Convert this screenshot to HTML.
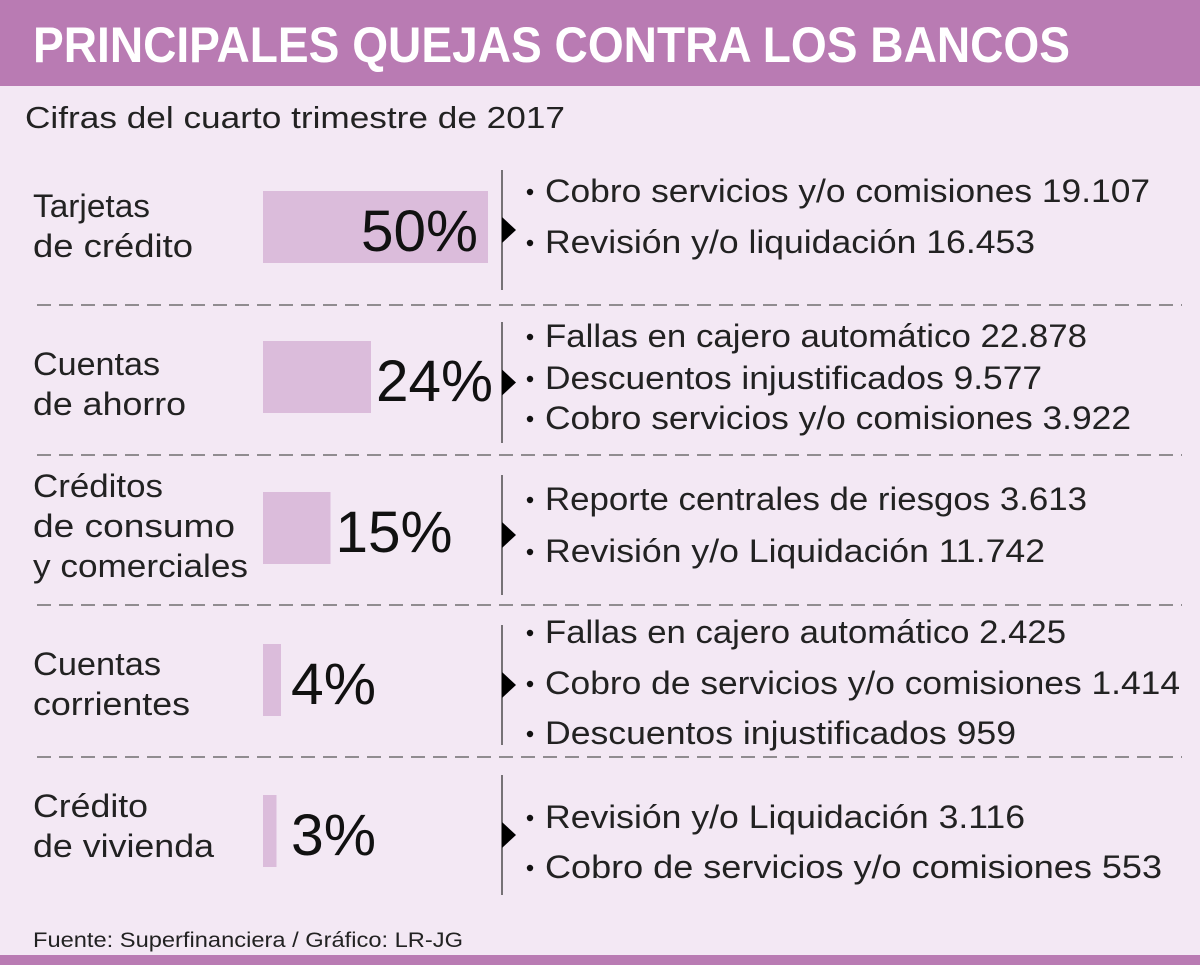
<!DOCTYPE html>
<html><head><meta charset="utf-8"><style>
html,body{margin:0;padding:0;background:#f3e8f4;}
svg{display:block;font-family:"Liberation Sans",sans-serif;}
</style></head><body>
<svg id="chart" width="1200" height="965" viewBox="0 0 1200 965" xmlns="http://www.w3.org/2000/svg">
<rect x="0" y="0" width="1200" height="965" fill="#f3e8f4"/>
<rect x="0" y="0" width="1200" height="86" fill="#b97bb3"/>
<text x="33" y="62" font-size="50" font-weight="bold" fill="#fff" textLength="1037" lengthAdjust="spacingAndGlyphs">PRINCIPALES QUEJAS CONTRA LOS BANCOS</text>
<text x="25" y="128" font-size="31" fill="#222" textLength="540" lengthAdjust="spacingAndGlyphs">Cifras del cuarto trimestre de 2017</text>
<g id="rows"></g>
<text x="33" y="947" font-size="21" fill="#222" textLength="430" lengthAdjust="spacingAndGlyphs">Fuente: Superfinanciera / Gráfico: LR-JG</text>
<rect x="0" y="955" width="1200" height="10" fill="#b97bb3"/>
</svg>
<script>
const categories = [["Tarjetas","de crédito"],["Cuentas","de ahorro"],["Créditos","de consumo","y comerciales"],["Cuentas","corrientes"],["Crédito","de vivienda"]];
const shares = [50, 24, 15, 4, 3];
const shareLabels = ["50%","24%","15%","4%","3%"];
const details = [
 ["Cobro servicios y/o comisiones 19.107","Revisión y/o liquidación 16.453"],
 ["Fallas en cajero automático 22.878","Descuentos injustificados 9.577","Cobro servicios y/o comisiones 3.922"],
 ["Reporte centrales de riesgos 3.613","Revisión y/o Liquidación 11.742"],
 ["Fallas en cajero automático 2.425","Cobro de servicios y/o comisiones 1.414","Descuentos injustificados 959"],
 ["Revisión y/o Liquidación 3.116","Cobro de servicios  y/o comisiones 553"]
];
const NS="http://www.w3.org/2000/svg";
const g=document.getElementById('rows');
const rowTop=[191,341,492,644,795];
const catBase=[[217,257],[375,415],[497,537,577],[675,715],[817,857]];
const catW=[[117,160],[127,153],[130,202,215],[128,157],[115,181]];
const detBase=[[202,253],[347,389,429],[510,562],[643,694,744],[828,878]];
const detEnd=[[1150,1035],[1087,1042,1131],[1087,1045],[1066,1180,1016],[1025,1162]];
const vLine=[[170,290],[322,443],[475,595],[625,745],[775,895]];
const sepY=[305,455,605,757];
const barX=263, pxPer=4.5, barH=72;
function xScale(v){return v*pxPer;}
function mk(tag,attrs){const e=document.createElementNS(NS,tag);for(const k in attrs)e.setAttribute(k,attrs[k]);return e;}
categories.forEach((cat,i)=>{
  cat.forEach((line,j)=>{
    const t=mk('text',{x:33,y:catBase[i][j],'font-size':32,fill:'#222',textLength:catW[i][j],lengthAdjust:'spacingAndGlyphs'});
    
    
    t.textContent=line;g.appendChild(t);
  });
  const w=xScale(shares[i]);
  const b=mk('rect',{x:barX,y:rowTop[i],width:w,height:barH,fill:'#dbbcdb'});
  
  
  g.appendChild(b);
  const end=barX+w;
  const lw=shareLabels[i].length>2?117:85;
  let lx;
  if(w>lw+20) lx=end-10-lw; else lx=Math.max(end+5,291);
  const pt=mk('text',{x:lx,y:rowTop[i]+60,'font-size':58,fill:'#111',textLength:lw,lengthAdjust:'spacingAndGlyphs'});
  
  
  pt.textContent=shareLabels[i];g.appendChild(pt);
  const vl=mk('line',{x1:502,x2:502,y1:vLine[i][0],y2:vLine[i][1],stroke:'#333','stroke-width':1.3});
  
  
  g.appendChild(vl);
  const cy=(vLine[i][0]+vLine[i][1])/2;
  const ar=mk('polygon',{points:`502,${cy-13} 516,${cy} 502,${cy+13}`,fill:'#000'});
  
  
  g.appendChild(ar);
  details[i].forEach((d,j)=>{
    const y=detBase[i][j];
    const c=mk('circle',{cx:530,cy:y-10,r:3.2,fill:'#111'});
    
    
    g.appendChild(c);
    const t=mk('text',{x:545,y:y,'font-size':32,fill:'#222',textLength:detEnd[i][j]-545,lengthAdjust:'spacingAndGlyphs'});
    
    
    t.textContent=d;g.appendChild(t);
  });
});
sepY.forEach(y=>{
  const l=mk('line',{x1:37,x2:1182,y1:y,y2:y,stroke:'#555','stroke-width':1.3,'stroke-dasharray':'14 8'});
  
  
  g.appendChild(l);
});
</script>
</body></html>
